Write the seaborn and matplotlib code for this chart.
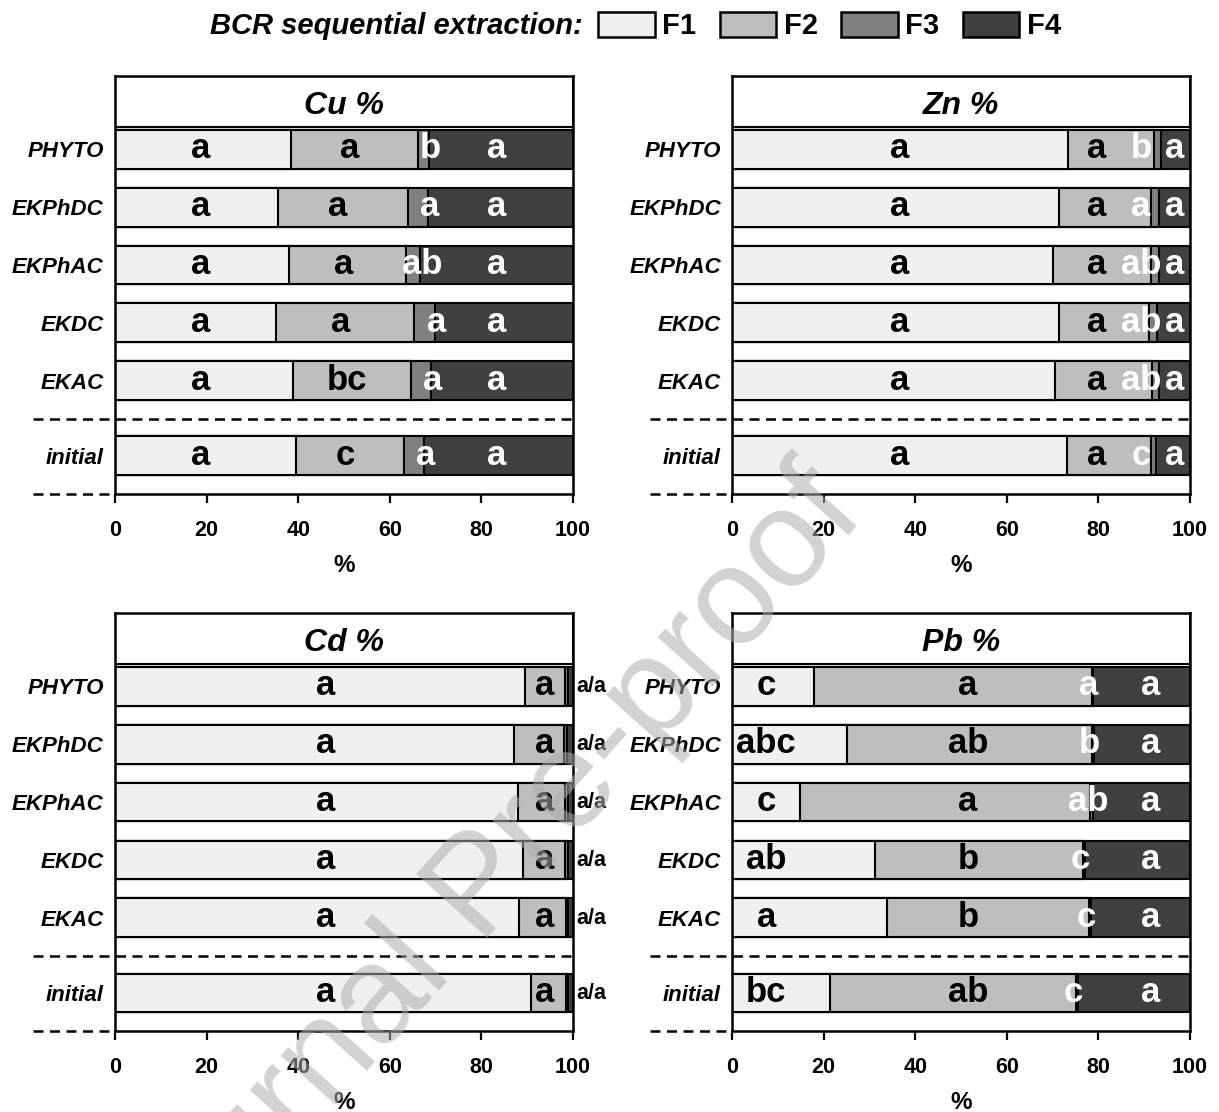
import numpy as np
import pandas as pd
import matplotlib
matplotlib.use("Agg")
import matplotlib.pyplot as plt
from matplotlib.patches import Rectangle, Patch
import seaborn as sns

# ---------------- data ----------------
treatments = ["PHYTO", "EKPhDC", "EKPhAC", "EKDC", "EKAC", "initial"]
fractions = ["F1", "F2", "F3", "F4"]

cu_f1 = [38.5, 35.5, 38.1, 35.1, 38.8, 39.6]
cu_f2 = [27.7, 28.4, 25.5, 30.3, 25.8, 23.6]
cu_f3 = [2.4, 4.5, 3.1, 4.5, 4.4, 4.3]
cu_f4 = [31.4, 31.6, 33.3, 30.1, 31.0, 32.5]

zn_f1 = [73.3, 71.3, 70.0, 71.5, 70.6, 73.2]
zn_f2 = [18.8, 20.2, 21.5, 19.5, 21.2, 18.3]
zn_f3 = [1.5, 1.7, 1.7, 1.9, 1.5, 1.0]
zn_f4 = [6.4, 6.8, 6.8, 7.1, 6.7, 7.5]

cd_f1 = [89.5, 87.2, 88.1, 89.1, 88.2, 90.8]
cd_f2 = [8.8, 10.8, 10.2, 9.1, 10.2, 7.6]
cd_f3 = [0.6, 0.7, 0.6, 0.7, 0.6, 0.6]
cd_f4 = [1.1, 1.3, 1.1, 1.1, 1.0, 1.0]

pb_f1 = [17.9, 25.2, 14.8, 31.2, 33.9, 21.5]
pb_f2 = [60.7, 53.4, 63.3, 45.5, 44.0, 53.7]
pb_f3 = [0.3, 0.4, 0.7, 0.4, 0.5, 0.3]
pb_f4 = [21.1, 21.0, 21.2, 22.9, 21.6, 24.5]

# significance letters
cu_let = [["a"] * 6, ["a", "a", "a", "a", "bc", "c"], ["b", "a", "ab", "a", "a", "a"], ["a"] * 6]
zn_let = [["a"] * 6, ["a"] * 6, ["b", "a", "ab", "ab", "ab", "c"], ["a"] * 6]
cd_let = [["a"] * 6, ["a"] * 6, ["a"] * 6, ["a"] * 6]
pb_let = [["c", "abc", "c", "ab", "a", "bc"], ["a", "ab", "a", "b", "b", "ab"],
          ["a", "b", "ab", "c", "c", "c"], ["a"] * 6]

# ---------------- style / layout ----------------
fraction_colors = ["#f0f0f0", "#bebebe", "#808080", "#404040"]
letter_colors = ["black", "black", "white", "white"]
ROW_POS = [0, 1, 2, 3, 4, 5.3]
DASH_Y = 4.66
YLIM = (5.96, -1.27)
TITLE_BOTTOM = -0.39
BAR_W = 0.67

sns.set_style("white")
plt.rcParams["font.family"] = ["Liberation Sans", "DejaVu Sans"]
plt.rcParams["font.weight"] = "bold"
for key in ["text.color", "axes.labelcolor", "xtick.color", "ytick.color", "axes.edgecolor"]:
    plt.rcParams[key] = "black"

fig = plt.figure(figsize=(12.19, 11.12), dpi=100)

panels = [
    ("Cu %", [cu_f1, cu_f2, cu_f3, cu_f4], cu_let, [0.0943, 0.5558, 0.3757, 0.3759],
     [18.6, ("mid", -1.0), ("end", 0.3), 83.4]),
    ("Zn %", [zn_f1, zn_f2, zn_f3, zn_f4], zn_let, [0.6005, 0.5558, 0.3757, 0.3759],
     [36.7, 79.7, 89.3, 96.7]),
    ("Cd %", [cd_f1, cd_f2, cd_f3, cd_f4], cd_let, [0.0943, 0.0728, 0.3757, 0.3759],
     [45.9, 93.9, None, None]),
    ("Pb %", [pb_f1, pb_f2, pb_f3, pb_f4], pb_let, [0.6005, 0.0728, 0.3757, 0.3759],
     [7.5, 51.5, ("end", -1.0), 91.3]),
]

for title, parts, lets, rect, label_x in panels:
    ax = fig.add_axes(rect)
    df = pd.DataFrame({"row": ROW_POS})
    for f, v in zip(fractions, parts):
        df[f] = v
    cum = df[fractions].cumsum(axis=1)
    for k in range(3, -1, -1):
        sns.barplot(x=cum[fractions[k]].values, y=df["row"].values, orient="y",
                    native_scale=True, width=BAR_W, color=fraction_colors[k],
                    saturation=1, edgecolor="black", linewidth=1.5,
                    errorbar=None, ax=ax, zorder=2)
    ax.set_xlim(0, 100)
    ax.set_ylim(*YLIM)

    # title box
    ax.add_patch(Rectangle((0, YLIM[1]), 100, TITLE_BOTTOM - YLIM[1], facecolor="white",
                           edgecolor="black", linewidth=1.5, zorder=3))
    ax.text(50, (YLIM[1] + TITLE_BOTTOM) / 2 + 0.21, title, ha="center", va="baseline",
            fontsize=23, fontweight="bold", fontstyle="italic", zorder=4)

    # dashed separators
    ax.plot([-18, 100], [DASH_Y, DASH_Y], color="black", lw=1.8, ls=(0, (4, 2.6)),
            clip_on=False, zorder=5)
    ax.plot([-18, 0], [YLIM[0], YLIM[0]], color="black", lw=1.8, ls=(0, (4, 2.6)),
            clip_on=False, zorder=5)

    # letters
    for k in range(4):
        lx = label_x[k]
        if lx is None:
            continue
        for i in range(6):
            if isinstance(lx, tuple):
                mode, off = lx
                if mode == "mid":
                    x = cum[fractions[k]].iloc[i] - parts[k][i] / 2 + off
                else:
                    x = cum[fractions[k]].iloc[i] + off
            else:
                x = lx
            ax.text(x, ROW_POS[i] + 0.155, lets[k][i], ha="center", va="baseline",
                    fontsize=25, fontweight="bold", color=letter_colors[k], zorder=6)
    if label_x[2] is None:
        for i in range(6):
            ax.text(100.7, ROW_POS[i] + 0.1, f"{lets[2][i]}/{lets[3][i]}", ha="left",
                    va="baseline", fontsize=15.5, fontweight="bold", color="black",
                    clip_on=False, zorder=6)

    # axes styling
    ax.set_yticks(ROW_POS)
    ax.set_yticklabels(treatments, fontsize=16, fontweight="bold", fontstyle="italic")
    ax.tick_params(axis="y", length=0, pad=8)
    ax.set_xticks([0, 20, 40, 60, 80, 100])
    ax.set_xticklabels(["0", "20", "40", "60", "80", "100"], fontsize=15.5, fontweight="bold")
    ax.tick_params(axis="x", direction="out", length=6.5, width=1.6, pad=12, bottom=True)
    ax.set_xlabel("%", fontsize=17.5, fontweight="bold", labelpad=9.5)
    ax.set_ylabel("")
    for s in ax.spines.values():
        s.set_visible(True)
        s.set_color("black")
        s.set_linewidth(1.8)
        s.set_zorder(7)

# legend
fig.text(583 / 1219, 1 - 26 / 1112, "BCR sequential extraction:", ha="right", va="center",
         fontsize=21, fontweight="bold", fontstyle="italic")
handles = [Patch(facecolor=c, edgecolor="black", linewidth=1.8) for c in fraction_colors]
fig.legend(handles, fractions, loc="center left", bbox_to_anchor=(598 / 1219, 1 - 26 / 1112),
           ncol=4, frameon=False, handlelength=1.95, handleheight=0.96,
           handletextpad=0.25, columnspacing=0.8, borderpad=0, borderaxespad=0,
           prop={"weight": "bold", "size": 21})

# watermark
fig.text(0.395, 0.2, "Journal Pre-proof", rotation=48, rotation_mode="anchor",
         ha="center", va="center", fontsize=100, fontweight="normal",
         color="#aeaeae", alpha=0.55, zorder=20)

fig.savefig("out.png", dpi=100)
